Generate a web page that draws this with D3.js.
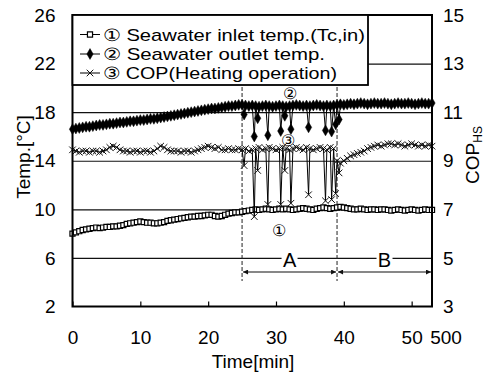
<!DOCTYPE html>
<html>
<head>
<meta charset="utf-8">
<script src="https://cdn.jsdelivr.net/npm/d3@7"></script>
<style>
  html, body { margin: 0; padding: 0; background: #fff; }
  svg { display: block; font-family: "Liberation Sans", Arial, sans-serif; }
</style>
</head>
<body>
<svg id="chart" width="486" height="374"></svg>
<script>
// time axis [min], sampled every 0.5 min
const minutes = [
  0, 0.5, 1, 1.5, 2, 2.5, 3, 3.5, 4, 4.5,
  5, 5.5, 6, 6.5, 7, 7.5, 8, 8.5, 9, 9.5,
  10, 10.5, 11, 11.5, 12, 12.5, 13, 13.5, 14, 14.5,
  15, 15.5, 16, 16.5, 17, 17.5, 18, 18.5, 19, 19.5,
  20, 20.5, 21, 21.5, 22, 22.5, 23, 23.5, 24, 24.5,
  25, 25.5, 26, 26.5, 27, 27.5, 28, 28.5, 29, 29.5,
  30, 30.5, 31, 31.5, 32, 32.5, 33, 33.5, 34, 34.5,
  35, 35.5, 36, 36.5, 37, 37.5, 38, 38.5, 39, 39.5,
  40, 40.5, 41, 41.5, 42, 42.5, 43, 43.5, 44, 44.5,
  45, 45.5, 46, 46.5, 47, 47.5, 48, 48.5, 49, 49.5,
  50, 50.5, 51, 51.5, 52, 52.5, 53
];

// (1) seawater inlet temp. [degC]
const inletTemp = [
  8.0, 8.1, 8.2, 8.3, 8.35, 8.4, 8.45, 8.5, 8.45, 8.5,
  8.55, 8.55, 8.6, 8.6, 8.65, 8.7, 8.8, 8.85, 8.9, 8.95,
  9.0, 8.95, 8.9, 8.9, 8.85, 8.85, 8.9, 8.95, 9.05, 9.1,
  9.15, 9.2, 9.25, 9.3, 9.35, 9.4, 9.4, 9.45, 9.45, 9.5,
  9.55, 9.55, 9.45, 9.4, 9.45, 9.55, 9.65, 9.7, 9.75, 9.75,
  9.8, 9.85, 9.9, 9.95, 10.0, 9.95, 10.0, 10.05, 10.0, 9.95,
  10.0, 10.05, 10.0, 10.05, 10.0, 9.95, 10.0, 10.05, 10.1, 10.05,
  10.0, 9.95, 10.05, 10.1, 10.15, 10.1, 10.05, 10.1, 10.15, 10.2,
  10.15, 10.1, 10.05, 10.0, 10.0, 10.05, 10.0, 9.95, 10.0, 10.0,
  9.95, 10.0, 10.0, 9.95, 9.9, 9.95, 10.0, 9.95, 9.9, 9.95,
  10.0, 9.95, 9.9, 9.95, 10.0, 9.95, 9.95
];

// (2) seawater outlet temp. [degC]
const outletTemp = [
  16.6, 16.65, 16.7, 16.75, 16.8, 16.8, 16.85, 16.9, 16.95, 16.95,
  17.0, 17.05, 17.05, 17.1, 17.15, 17.15, 17.2, 17.25, 17.25, 17.3,
  17.35, 17.35, 17.4, 17.45, 17.45, 17.5, 17.55, 17.6, 17.65, 17.7,
  17.75, 17.8, 17.85, 17.9, 17.95, 18.0, 18.05, 18.1, 18.15, 18.2,
  18.25, 18.3, 18.3, 18.35, 18.4, 18.45, 18.5, 18.5, 18.55, 18.6,
  18.6, 18.55, 18.5, 18.55, 18.5, 18.45, 18.5, 18.55, 18.5, 18.45,
  18.5, 18.55, 18.5, 18.45, 18.5, 18.55, 18.6, 18.55, 18.5, 18.55,
  18.5, 18.55, 18.6, 18.55, 18.5, 18.55, 18.5, 18.55, 18.6, 18.65,
  18.6, 18.65, 18.7, 18.65, 18.7, 18.75, 18.7, 18.65, 18.7, 18.75,
  18.7, 18.7, 18.75, 18.7, 18.65, 18.7, 18.75, 18.7, 18.7, 18.75,
  18.7, 18.65, 18.7, 18.75, 18.7, 18.7, 18.75
];

// (3) COP, heating operation (right axis)
const copHeating = [
  9.45, 9.4, 9.35, 9.4, 9.4, 9.35, 9.4, 9.4, 9.35, 9.4,
  9.45, 9.55, 9.6, 9.55, 9.45, 9.4, 9.4, 9.35, 9.4, 9.4,
  9.35, 9.4, 9.4, 9.35, 9.4, 9.5, 9.6, 9.55, 9.45, 9.4,
  9.4, 9.4, 9.35, 9.4, 9.4, 9.35, 9.4, 9.45, 9.5, 9.55,
  9.6, 9.55, 9.5, 9.55, 9.45, 9.45, 9.5, 9.45, 9.45, 9.5,
  9.45, 9.5, 9.4, 9.45, 9.5, 9.55, 9.45, 9.5, 9.55, 9.5,
  9.45, 9.5, 9.55, 9.5, 9.45, 9.5, 9.55, 9.5, 9.45, 9.55,
  9.5, 9.45, 9.5, 9.55, 9.5, 9.45, 9.55, 9.5, 9.0, 8.9,
  9.0, 9.1, 9.2, 9.25, 9.3, 9.35, 9.4, 9.5, 9.55, 9.6,
  9.65, 9.6, 9.65, 9.7, 9.7, 9.65, 9.7, 9.65, 9.6, 9.65,
  9.7, 9.65, 9.6, 9.65, 9.6, 9.65, 9.6
];

// short drops during period A
const dipMinutes = [25.3, 26.8, 27.3, 28.8, 30.7, 31.3, 32.2, 34.8, 37.3, 38.2, 38.8, 39.3];
const outletDip  = [17.8, 16.0, 17.5, 16.1, 16.45, 17.7, 16.6, 16.75, 16.5, 16.4, 17.0, 17.4];
const copDip     = [8.8, 6.7, 8.6, 7.2, 7.2, 8.6, 7.25, 7.6, 7.35, 7.4, 7.65, 8.5];

const tempTicks = [2, 6, 10, 14, 18, 22, 26];
const copTicks = [3, 5, 7, 9, 11, 13, 15];
const timeTicks = [0, 10, 20, 30, 40, 50];
const periodBounds = [25, 39, 53];
const periodNames = ['A', 'B'];

const legendNames = [
  '\u2460 Seawater inlet temp.(Tc,in)',
  '\u2461 Seawater outlet temp.',
  '\u2462 COP(Heating operation)'
];

const svg = d3.select('#chart');
const pL = 72.5, pR = 432, pT = 15, pB = 306.5;

const x = d3.scaleLinear().domain([0, 53]).range([pL, pR]);
const yT = d3.scaleLinear().domain([2, 26]).range([pB, pT]);
const yC = d3.scaleLinear().domain([3, 15]).range([pB, pT]);

const withDips = (base, dips) => minutes
  .map((t, i) => ({ t, v: base[i] }))
  .concat(dips ? dipMinutes.map((t, i) => ({ t, v: dips[i] })) : [])
  .sort((a, b) => a.t - b.t);

const inlet = withDips(inletTemp);
const outlet = withDips(outletTemp, outletDip);
const cop = withDips(copHeating, copDip);

// grid lines
svg.append('g')
    .attr('transform', `translate(${pL},0)`)
    .call(d3.axisLeft(yT).tickValues(tempTicks.slice(1, -1)).tickSize(-(pR - pL)).tickFormat(''))
    .call(g => g.select('.domain').remove())
    .call(g => g.selectAll('line').attr('stroke', '#111').attr('stroke-width', 1.2));

// period A / B markers
const dash = svg.append('g');
dash.selectAll('line.vdash')
    .data(periodBounds.slice(0, 2))
    .join('line')
        .attr('class', 'vdash')
        .attr('x1', d => x(d)).attr('x2', d => x(d))
        .attr('y1', pT).attr('y2', 281)
        .attr('stroke', '#222')
        .attr('stroke-width', 1)
        .attr('stroke-dasharray', '4,2');

svg.append('defs').selectAll('marker')
    .data(['arrS', 'arrE'])
    .join('marker')
        .attr('id', d => d)
        .attr('viewBox', '0 0 10 10')
        .attr('refX', d => d === 'arrE' ? 10 : 0)
        .attr('refY', 5)
        .attr('markerWidth', 7)
        .attr('markerHeight', 5)
        .attr('markerUnits', 'userSpaceOnUse')
        .attr('orient', 'auto')
    .append('path')
        .attr('d', d => d === 'arrE' ? 'M0,0L10,5L0,10z' : 'M10,0L0,5L10,10z')
        .attr('fill', '#111');

periodNames.forEach((name, i) => {
  const a = periodBounds[i], b = periodBounds[i + 1];
  dash.append('line')
      .attr('x1', x(a) + 1).attr('x2', x(b) - 1)
      .attr('y1', 272).attr('y2', 272)
      .attr('stroke', '#111').attr('stroke-width', 1.2)
      .attr('marker-start', 'url(#arrS)')
      .attr('marker-end', 'url(#arrE)');
  dash.append('rect')
      .attr('x', x((a + b) / 2) - 8).attr('y', 250)
      .attr('width', 16).attr('height', 18)
      .attr('fill', '#fff');
  dash.append('text')
      .attr('x', x((a + b) / 2)).attr('y', 267)
      .attr('text-anchor', 'middle')
      .attr('font-size', 20)
      .text(name);
});

// series
const lineT = d3.line().x(d => x(d.t)).y(d => yT(d.v));
const lineC = d3.line().x(d => x(d.t)).y(d => yC(d.v));

const series = [
  { data: inlet, line: lineT, y: yT, symbol: d3.symbolSquare, size: 26, fill: '#fff', stroke: '#000', sw: 1.2 },
  { data: outlet, line: lineT, y: yT, symbol: d3.symbolDiamond, size: 34, fill: '#000', stroke: '#000', sw: 0.5 },
  { data: cop, line: lineC, y: yC, symbol: d3.symbolX, size: 30, fill: 'none', stroke: '#111', sw: 1 }
];

series.forEach(s => {
  const g = svg.append('g');
  g.append('path')
      .datum(s.data)
      .attr('fill', 'none')
      .attr('stroke', '#000')
      .attr('stroke-width', 1)
      .attr('d', s.line);
  g.selectAll('path.mk')
      .data(s.data)
      .join('path')
          .attr('class', 'mk')
          .attr('transform', d => `translate(${x(d.t)},${s.y(d.v)})`)
          .attr('d', d3.symbol(s.symbol, s.size))
          .attr('fill', s.fill)
          .attr('stroke', s.stroke)
          .attr('stroke-width', s.sw);
});

// circled series labels in the plot
const noteText = ['\u2460', '\u2461', '\u2462'];
const noteTime = [30.5, 32, 31.8];
const noteTemp = [8.3, 19.55, 15.7];
svg.append('g').selectAll('text')
    .data(noteText)
    .join('text')
        .attr('x', (d, i) => x(noteTime[i]))
        .attr('y', (d, i) => yT(noteTemp[i]))
        .attr('dy', '0.35em')
        .attr('text-anchor', 'middle')
        .attr('font-size', 16)
        .text(d => d);

// frame
svg.append('rect')
    .attr('x', pL).attr('y', pT)
    .attr('width', pR - pL).attr('height', pB - pT)
    .attr('fill', 'none')
    .attr('stroke', '#000')
    .attr('stroke-width', 2);

// axes
svg.append('g')
    .attr('transform', `translate(${pL},0)`)
    .call(d3.axisLeft(yT).tickValues(tempTicks).tickSize(0).tickPadding(17))
    .call(g => g.select('.domain').remove())
    .call(g => g.selectAll('text').attr('font-size', 19).attr('fill', '#000').style('font-family', 'inherit'));

svg.append('g')
    .attr('transform', `translate(${pR},0)`)
    .call(d3.axisRight(yC).tickValues(copTicks).tickSize(0).tickPadding(11))
    .call(g => g.select('.domain').remove())
    .call(g => g.selectAll('text').attr('font-size', 19).attr('fill', '#000').style('font-family', 'inherit'));

svg.append('g')
    .attr('transform', `translate(0,${pB})`)
    .call(d3.axisBottom(x).tickValues(timeTicks).tickSizeInner(-5).tickSizeOuter(0).tickPadding(24))
    .call(g => g.select('.domain').remove())
    .call(g => g.selectAll('line').attr('stroke', '#000').attr('stroke-width', 1.2))
    .call(g => g.selectAll('text').attr('font-size', 19).attr('fill', '#000').style('font-family', 'inherit'));

svg.append('text')
    .attr('x', 446).attr('y', 344)
    .attr('text-anchor', 'middle')
    .attr('font-size', 19)
    .text('500');

// axis titles
svg.append('text')
    .attr('x', 253).attr('y', 368)
    .attr('text-anchor', 'middle')
    .attr('font-size', 19)
    .text('Time[min]');

svg.append('text')
    .attr('transform', 'translate(30,157) rotate(-90)')
    .attr('text-anchor', 'middle')
    .attr('font-size', 19)
    .text('Temp.[\u00b0C]');

const copTitle = svg.append('text')
    .attr('transform', 'translate(479,155) rotate(-90)')
    .attr('text-anchor', 'middle')
    .attr('font-size', 19);
copTitle.append('tspan').text('COP');
copTitle.append('tspan').attr('font-size', 12).attr('dy', 3).text('HS');

// legend
const legend = svg.append('g');
legend.append('rect')
    .attr('x', pL).attr('y', pT)
    .attr('width', 368 - pL).attr('height', 85 - pT)
    .attr('fill', '#fff')
    .attr('stroke', '#000')
    .attr('stroke-width', 1.8);

const legendY = [34.5, 54, 73];
const legendWidth = [262, 222, 234];
legendNames.forEach((name, i) => {
  const s = series[i];
  const row = legend.append('g').attr('transform', `translate(0,${legendY[i]})`);
  row.append('line')
      .attr('x1', 80).attr('x2', 100)
      .attr('stroke', '#000').attr('stroke-width', 1);
  row.append('path')
      .attr('transform', 'translate(90,0)')
      .attr('d', d3.symbol(s.symbol, s.size))
      .attr('fill', s.fill)
      .attr('stroke', s.stroke)
      .attr('stroke-width', s.sw);
  row.append('text')
      .attr('x', 103).attr('dy', '0.36em')
      .attr('font-size', 17)
      .attr('textLength', legendWidth[i])
      .attr('lengthAdjust', 'spacingAndGlyphs')
      .text(name);
});
</script>
</body>
</html>
